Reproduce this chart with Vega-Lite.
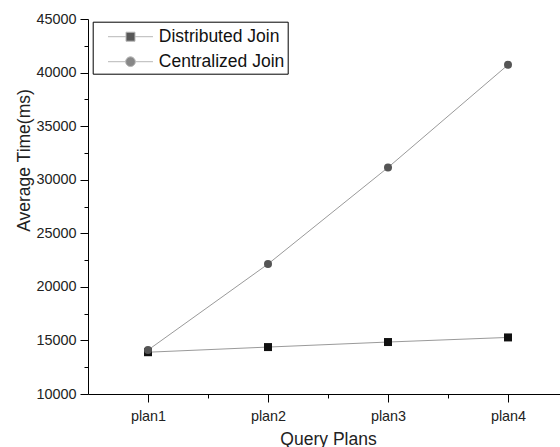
{
  "$schema": "https://vega.github.io/schema/vega-lite/v6.json",
  "width": 472,
  "height": 375,
  "autosize": {"type": "none"},
  "padding": {"left": 88, "top": 19, "right": 0, "bottom": 53},
  "background": "white",
  "config": {
    "font": "Liberation Sans",
    "view": {"stroke": null},
    "axis": {
      "grid": false,
      "domainColor": "#000",
      "domainWidth": 1,
      "tickColor": "#000",
      "tickWidth": 1,
      "labelColor": "#222",
      "labelFontSize": 14.4,
      "titleColor": "#222",
      "titleFontSize": 17.5,
      "titleFontWeight": "normal"
    }
  },
  "data": {
    "values": [
      {"plan": "plan1", "idx": 1, "series": "Distributed Join", "time": 13900},
      {"plan": "plan2", "idx": 2, "series": "Distributed Join", "time": 14380},
      {"plan": "plan3", "idx": 3, "series": "Distributed Join", "time": 14850},
      {"plan": "plan4", "idx": 4, "series": "Distributed Join", "time": 15280},
      {"plan": "plan1", "idx": 1, "series": "Centralized Join", "time": 14100},
      {"plan": "plan2", "idx": 2, "series": "Centralized Join", "time": 22130},
      {"plan": "plan3", "idx": 3, "series": "Centralized Join", "time": 31140},
      {"plan": "plan4", "idx": 4, "series": "Centralized Join", "time": 40720}
    ]
  },
  "resolve": {"axis": {"x": "independent", "y": "independent"}},
  "layer": [
    {
      "mark": {"type": "line", "color": "#9a9a9a", "strokeWidth": 1},
      "encoding": {
        "x": {
          "field": "idx", "type": "quantitative",
          "scale": {"domain": [0.5, 4.4333], "nice": false, "zero": false},
          "axis": {
            "orient": "bottom",
            "values": [1, 2, 3, 4],
            "labelExpr": "'plan' + datum.value",
            "tickSize": 8,
            "labelPadding": 7,
            "title": "Query Plans",
            "titleX": 240,
            "titleY": 50,
            "titleBaseline": "alphabetic"
          }
        },
        "y": {
          "field": "time", "type": "quantitative",
          "scale": {"domain": [10000, 45000], "nice": false, "zero": false},
          "axis": {
            "orient": "left",
            "values": [10000, 15000, 20000, 25000, 30000, 35000, 40000, 45000],
            "format": "d",
            "tickSize": 8,
            "labelPadding": 4,
            "title": "Average Time(ms)",
            "titleX": -59,
            "titleY": 141,
            "titleBaseline": "alphabetic"
          }
        },
        "detail": {"field": "series"}
      }
    },
    {
      "mark": {"type": "point", "filled": true, "opacity": 1, "size": 64},
      "encoding": {
        "x": {"field": "idx", "type": "quantitative", "axis": null},
        "y": {"field": "time", "type": "quantitative", "axis": null},
        "shape": {"condition": {"test": "datum.series === 'Distributed Join'", "value": "square"}, "value": "circle"},
        "color": {"condition": {"test": "datum.series === 'Distributed Join'", "value": "#111111"}, "value": "#555555"}
      }
    },
    {
      "data": {"values": []},
      "mark": {"type": "point", "filled": true},
      "encoding": {
        "x": {
          "field": "idx", "type": "quantitative",
          "axis": {"orient": "bottom", "values": [1.5, 2.5, 3.5], "labels": false, "domain": false, "tickSize": 4, "title": null}
        },
        "y": {
          "field": "time", "type": "quantitative",
          "axis": {"orient": "left", "values": [12500, 17500, 22500, 27500, 32500, 37500, 42500], "labels": false, "domain": false, "tickSize": 4, "title": null}
        },
        "shape": {
          "field": "series", "type": "nominal",
          "scale": {
            "domain": ["Distributed Join", "Centralized Join"],
            "range": [
              "M-2,0H-0.4M0.4,0H2M-0.4,-0.4H0.4V0.4H-0.4Z",
              "M-2,0H-0.43M0.43,0H2M-0.43,0A0.43,0.43 0 1 1 0.43,0A0.43,0.43 0 1 1 -0.43,0Z"
            ]
          },
          "legend": {
            "orient": "none",
            "legendX": 4.7,
            "legendY": 2.7,
            "title": null,
            "padding": 3,
            "strokeColor": "#000",
            "fillColor": "#fff",
            "symbolSize": 506,
            "symbolStrokeWidth": 1,
            "symbolStrokeColor": "#9a9a9a",
            "symbolOffset": 22.8,
            "labelOffset": 16.3,
            "labelFontSize": 17.5,
            "labelColor": "#111",
            "rowPadding": 4,
            "encode": {"symbols": {"stroke": {"value": "#9a9a9a"}, "strokeWidth": {"value": 1}}}
          }
        },
        "color": {
          "field": "series", "type": "nominal",
          "scale": {"domain": ["Distributed Join", "Centralized Join"], "range": ["#111111", "#555555"]}
        }
      }
    }
  ]
}
